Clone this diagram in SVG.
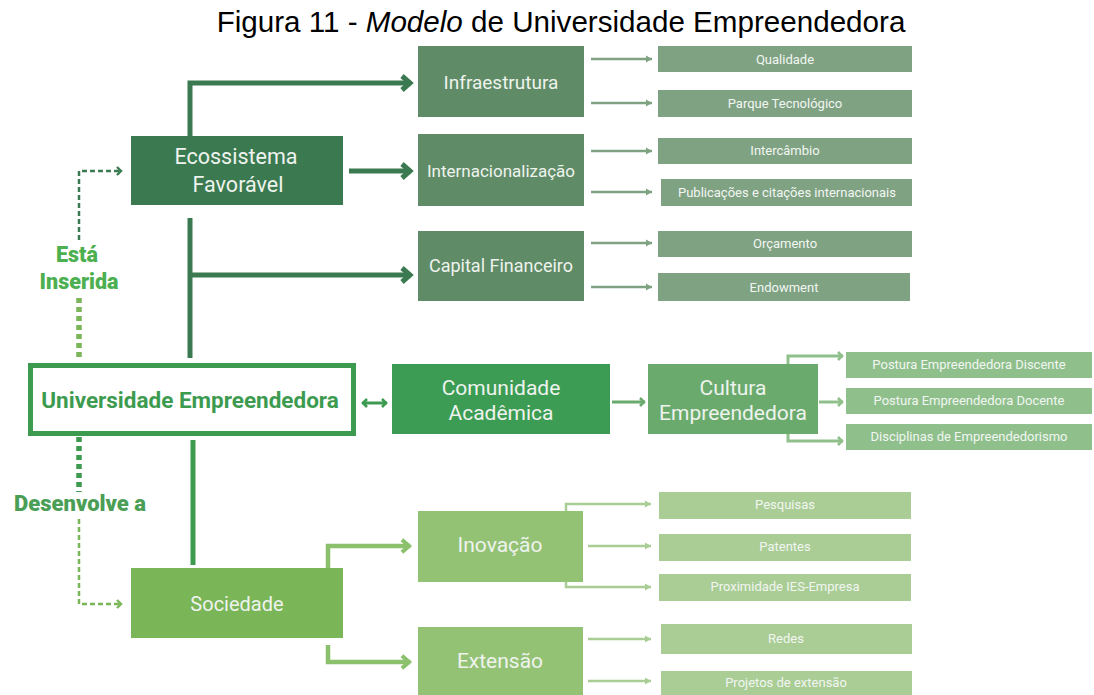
<svg xmlns="http://www.w3.org/2000/svg" width="1094" height="695" viewBox="0 0 1094 695">
<style>
text{font-family:Roboto,"Liberation Sans",sans-serif;text-anchor:middle}
.title{font-family:"Liberation Sans",Arial,sans-serif;font-size:29.6px;fill:#000}
.bt{fill:#eef3ee;font-size:20px}
.st{fill:#f2f6f2;font-size:13px}
.lbl{font-weight:900;font-size:21.5px}
.c{fill:none}
</style>
<defs>
<marker id="chevD" markerUnits="userSpaceOnUse" viewBox="0 0 20 20" refX="16" refY="10" markerWidth="20" markerHeight="20" orient="auto">
<path d="M7,3 L15,10 L7,17" fill="none" stroke="#3b7a50" stroke-width="5"/>
</marker>
<marker id="chevS" markerUnits="userSpaceOnUse" viewBox="0 0 20 20" refX="16" refY="10" markerWidth="18" markerHeight="18" orient="auto">
<path d="M7,3 L15,10 L7,17" fill="none" stroke="#8bc06d" stroke-width="4.5"/>
</marker>
<marker id="chevU" markerUnits="userSpaceOnUse" viewBox="0 0 12 12" refX="10" refY="6" markerWidth="12" markerHeight="12" orient="auto-start-reverse">
<path d="M5,2 L9,6 L5,10" fill="none" stroke="#3d9b50" stroke-width="2.6"/>
</marker>
<marker id="chevC" markerUnits="userSpaceOnUse" viewBox="0 0 12 12" refX="10" refY="6" markerWidth="12" markerHeight="12" orient="auto">
<path d="M5,2 L9,6 L5,10" fill="none" stroke="#6aab6d" stroke-width="2.6"/>
</marker>
<marker id="chevP" markerUnits="userSpaceOnUse" viewBox="0 0 12 12" refX="10" refY="6" markerWidth="12" markerHeight="12" orient="auto">
<path d="M5,2 L9,6 L5,10" fill="none" stroke="#8fc08c" stroke-width="2.6"/>
</marker>
<marker id="triT" markerUnits="userSpaceOnUse" viewBox="0 0 10 10" refX="9" refY="5" markerWidth="10" markerHeight="10" orient="auto">
<path d="M3,1.5 L9,5 L3,8.5 Z" fill="#7fa283"/>
</marker>
<marker id="triI" markerUnits="userSpaceOnUse" viewBox="0 0 10 10" refX="9" refY="5" markerWidth="10" markerHeight="10" orient="auto">
<path d="M3,1.5 L9,5 L3,8.5 Z" fill="#a9cd95"/>
</marker>
<marker id="dashD" markerUnits="userSpaceOnUse" viewBox="0 0 12 12" refX="10" refY="6" markerWidth="12" markerHeight="12" orient="auto">
<path d="M5,2 L9,6 L5,10" fill="none" stroke="#3b7a50" stroke-width="2.4"/>
</marker>
<marker id="dashL" markerUnits="userSpaceOnUse" viewBox="0 0 12 12" refX="10" refY="6" markerWidth="12" markerHeight="12" orient="auto">
<path d="M5,2 L9,6 L5,10" fill="none" stroke="#7ab558" stroke-width="2.4"/>
</marker>
</defs>
<rect width="1094" height="695" fill="#fff"/>
<text class="title" x="561" y="32">Figura 11 - <tspan font-style="italic">Modelo</tspan> de Universidade Empreendedora</text>

<g id="connectors" class="c">
<path d="M190,136 V83 H411" stroke="#3b7a50" stroke-width="5" marker-end="url(#chevD)"/>
<path d="M349,171 H411" stroke="#3b7a50" stroke-width="5" marker-end="url(#chevD)"/>
<path d="M190,218 V358" stroke="#3b7a50" stroke-width="5"/>
<path d="M190,275 H411" stroke="#3b7a50" stroke-width="5" marker-end="url(#chevD)"/>
<g stroke="#7fa283" stroke-width="2.5">
<path d="M591,59 H652" marker-end="url(#triT)"/>
<path d="M591,103 H652" marker-end="url(#triT)"/>
<path d="M591,151 H652" marker-end="url(#triT)"/>
<path d="M591,192 H652" marker-end="url(#triT)"/>
<path d="M591,243 H652" marker-end="url(#triT)"/>
<path d="M591,287 H652" marker-end="url(#triT)"/>
</g>
<path d="M79,240 V171 H122" stroke="#3b7a50" stroke-width="2.5" stroke-dasharray="5 3" marker-end="url(#dashD)"/>
<path d="M79,298 V358" stroke="#7ab558" stroke-width="5.5" stroke-dasharray="5 4"/>
<path d="M79,437 V492" stroke="#3d9b50" stroke-width="5.5" stroke-dasharray="5 4"/>
<path d="M79,519 V604 H122" stroke="#7ab558" stroke-width="2.5" stroke-dasharray="5 3" marker-end="url(#dashL)"/>
<path d="M362,403 H387" stroke="#3d9b50" stroke-width="3" marker-start="url(#chevU)" marker-end="url(#chevU)"/>
<path d="M193,440 V565" stroke="#3d9b50" stroke-width="5"/>
<path d="M612,402 H645" stroke="#6aab6d" stroke-width="3" marker-end="url(#chevC)"/>
<g stroke="#8fc08c" stroke-width="3">
<path d="M788,364 V356 H843" marker-end="url(#chevP)"/>
<path d="M819,402 H843" marker-end="url(#chevP)"/>
<path d="M788,434 V441 H843" marker-end="url(#chevP)"/>
</g>
<path d="M328,568 V546 H410" stroke="#8bc06d" stroke-width="4.5" marker-end="url(#chevS)"/>
<path d="M328,645 V662 H410" stroke="#8bc06d" stroke-width="4.5" marker-end="url(#chevS)"/>
<g stroke="#a9cd95" stroke-width="2.5">
<path d="M566,511 V504 H651" marker-end="url(#triI)"/>
<path d="M588,546 H651" marker-end="url(#triI)"/>
<path d="M566,582 V587 H651" marker-end="url(#triI)"/>
<path d="M588,639 H651" marker-end="url(#triI)"/>
<path d="M588,681 H651" marker-end="url(#triI)"/>
</g>
</g>

<g id="lbl-inserida" fill="#4caf50">
<text class="lbl" x="77" y="262">Está</text>
<text class="lbl" x="79" y="289">Inserida</text>
</g>
<g id="lbl-desenvolve" fill="#4a9e55">
<text class="lbl" x="80" y="511" style="font-size:22px">Desenvolve a</text>
</g>

<g id="ecossistema">
<rect x="131" y="136" width="212" height="69" fill="#3b7a50"/>
<text class="bt" x="236" y="164" style="font-size:21.5px">Ecossistema</text>
<text class="bt" x="238" y="192" style="font-size:21.5px">Favorável</text>
</g>
<g id="infraestrutura">
<rect x="418" y="46" width="166" height="71" fill="#5f8b66"/>
<text class="bt" x="501" y="89" style="font-size:19px">Infraestrutura</text>
</g>
<g id="internacionalizacao">
<rect x="418" y="134" width="166" height="72" fill="#5f8b66"/>
<text class="bt" x="501" y="177" style="font-size:17px">Internacionalização</text>
</g>
<g id="capital">
<rect x="418" y="231" width="166" height="70" fill="#5f8b66"/>
<text class="bt" x="501" y="272" style="font-size:18px">Capital Financeiro</text>
</g>
<g id="qualidade"><rect x="658" y="46" width="254" height="26" fill="#7fa283"/><text class="st" x="785" y="64">Qualidade</text></g>
<g id="parque"><rect x="658" y="90" width="254" height="27" fill="#7fa283"/><text class="st" x="785" y="108">Parque Tecnológico</text></g>
<g id="intercambio"><rect x="658" y="138" width="254" height="26" fill="#7fa283"/><text class="st" x="785" y="155">Intercâmbio</text></g>
<g id="publicacoes"><rect x="661" y="179" width="251" height="27" fill="#7fa283"/><text class="st" x="787" y="197">Publicações e citações internacionais</text></g>
<g id="orcamento"><rect x="658" y="231" width="254" height="26" fill="#7fa283"/><text class="st" x="785" y="248">Orçamento</text></g>
<g id="endowment"><rect x="658" y="273" width="252" height="28" fill="#7fa283"/><text class="st" x="784" y="292">Endowment</text></g>

<g id="universidade">
<rect x="30.5" y="365.5" width="323" height="68" fill="#fff" stroke="#3d9b50" stroke-width="5"/>
<text x="190" y="408" fill="#3d9b50" font-weight="700" font-size="22.5">Universidade Empreendedora</text>
</g>
<g id="comunidade">
<rect x="392" y="364" width="218" height="70" fill="#3c9c53"/>
<text class="bt" x="501" y="395" style="font-size:21px">Comunidade</text>
<text class="bt" x="501" y="420" style="font-size:21px">Acadêmica</text>
</g>
<g id="cultura">
<rect x="648" y="364" width="170" height="70" fill="#6aab6d"/>
<text class="bt" x="733" y="395" style="font-size:21px">Cultura</text>
<text class="bt" x="733" y="420" style="font-size:21px">Empreendedora</text>
</g>
<g id="discente"><rect x="846" y="352" width="246" height="26" fill="#8fc08c"/><text class="st" x="969" y="369">Postura Empreendedora Discente</text></g>
<g id="docente"><rect x="846" y="388" width="246" height="26" fill="#8fc08c"/><text class="st" x="969" y="405">Postura Empreendedora Docente</text></g>
<g id="disciplinas"><rect x="846" y="424" width="246" height="26" fill="#8fc08c"/><text class="st" x="969" y="441">Disciplinas de Empreendedorismo</text></g>

<g id="sociedade">
<rect x="131" y="568" width="212" height="70" fill="#7ab558"/>
<text class="bt" x="237" y="611">Sociedade</text>
</g>
<g id="inovacao">
<rect x="418" y="511" width="165" height="71" fill="#94c275"/>
<text class="bt" x="500" y="552" style="font-size:21px">Inovação</text>
</g>
<g id="extensao">
<rect x="418" y="627" width="165" height="68" fill="#94c275"/>
<text class="bt" x="500" y="668" style="font-size:21px">Extensão</text>
</g>
<g id="pesquisas"><rect x="659" y="492" width="252" height="27" fill="#a9cd95"/><text class="st" x="785" y="509">Pesquisas</text></g>
<g id="patentes"><rect x="659" y="534" width="252" height="27" fill="#a9cd95"/><text class="st" x="785" y="551">Patentes</text></g>
<g id="proximidade"><rect x="659" y="574" width="252" height="27" fill="#a9cd95"/><text class="st" x="785" y="591">Proximidade IES-Empresa</text></g>
<g id="redes"><rect x="661" y="624" width="251" height="30" fill="#a9cd95"/><text class="st" x="786" y="643">Redes</text></g>
<g id="projetos"><rect x="661" y="671" width="251" height="24" fill="#a9cd95"/><text class="st" x="786" y="687">Projetos de extensão</text></g>
</svg>
